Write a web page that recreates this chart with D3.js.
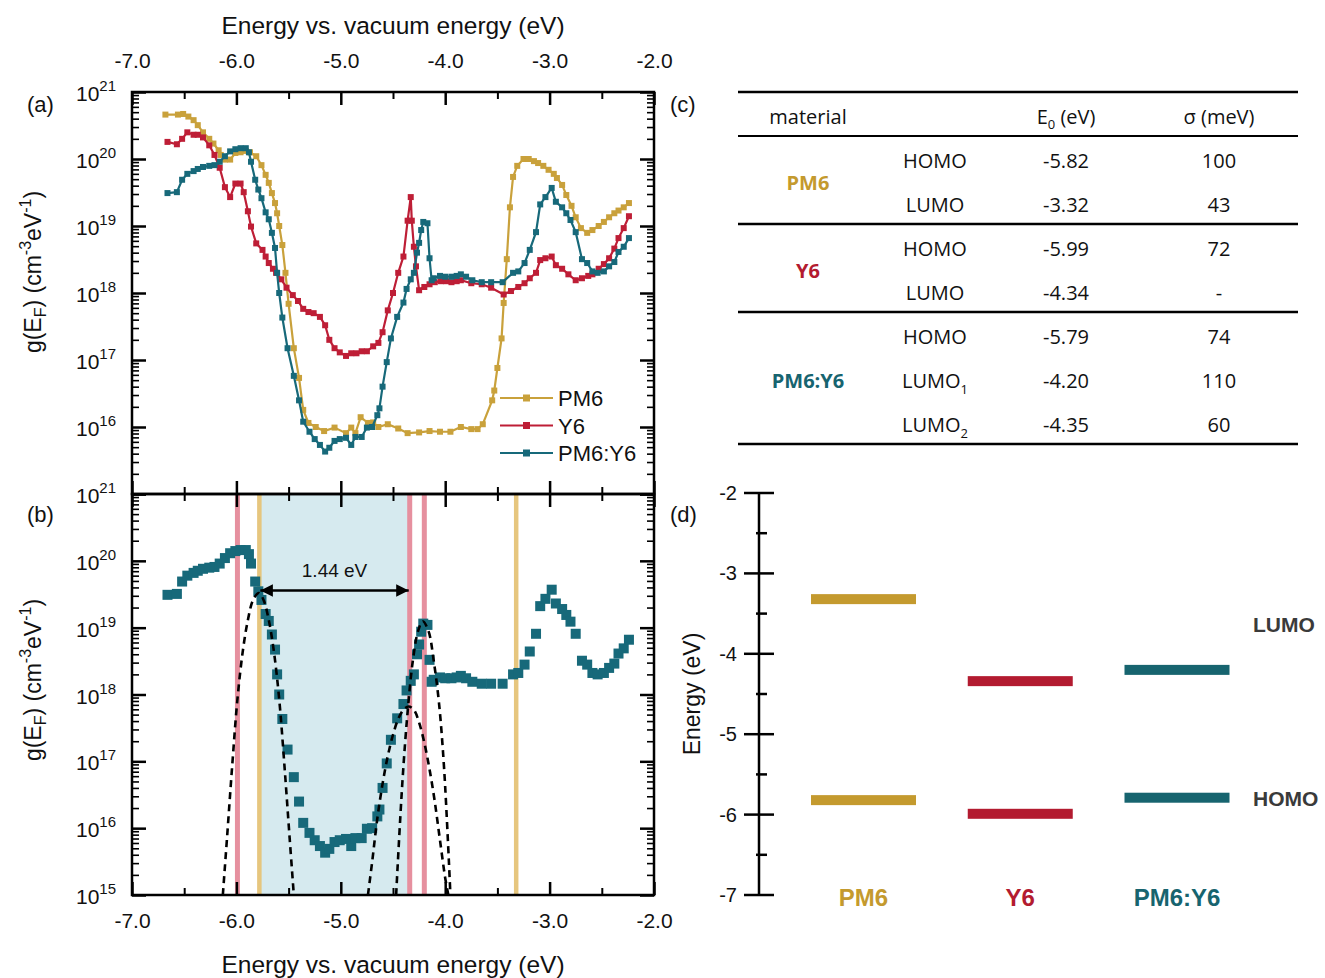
<!DOCTYPE html>
<html>
<head>
<meta charset="utf-8">
<script src="https://cdn.jsdelivr.net/npm/d3@7"></script>
<style>
    body { margin: 0; background: #fff; }
    text { font-family: "Liberation Sans", Arial, sans-serif; fill: #111; }
    .tbl { font-family: "Open Sans", "Noto Sans", sans-serif; }
</style>
</head>
<body>
<svg id="chart" width="1325" height="978"></svg>
<script>
// ---- data ----

const pm6 = [
    [-6.68, 4.6e20], [-6.56, 4.6e20], [-6.51, 4.7e20], [-6.46, 4.3e20], [-6.41, 3.8e20], [-6.37, 3.2e20],
    [-6.32, 2.5e20], [-6.26, 2.0e20], [-6.22, 1.7e20], [-6.17, 1.35e20], [-6.15, 1.15e20], [-6.11, 9.8e19],
    [-6.06, 9.8e19], [-6.01, 1.23e20], [-5.96, 1.26e20], [-5.91, 1.32e20], [-5.87, 1.26e20], [-5.81, 1.1e20],
    [-5.76, 8.1e19], [-5.72, 5.8e19], [-5.69, 4.4e19], [-5.66, 3.1e19], [-5.63, 2.2e19], [-5.61, 1.55e19],
    [-5.59, 1.0e19], [-5.56, 5.2e18], [-5.53, 2.0e18], [-5.50, 6.9e17], [-5.45, 1.5e17], [-5.40, 5.4e16],
    [-5.36, 1.8e16], [-5.31, 1.15e16], [-5.24, 1.0e16], [-5.16, 8.7e15], [-5.06, 9.8e15], [-4.95, 8.1e15],
    [-4.90, 9.8e15], [-4.86, 8.1e15], [-4.81, 1.4e16], [-4.74, 1.15e16], [-4.69, 1.17e16], [-4.64, 1.0e16],
    [-4.55, 1.1e16], [-4.45, 9.5e15], [-4.36, 8.1e15], [-4.25, 8.3e15], [-4.15, 8.7e15], [-4.05, 8.5e15],
    [-3.95, 8.5e15], [-3.85, 1.0e16], [-3.75, 9.3e15], [-3.69, 9.3e15], [-3.64, 1.1e16], [-3.55, 2.5e16],
    [-3.53, 3.5e16], [-3.50, 7.6e16], [-3.46, 2.1e17], [-3.44, 7.1e17], [-3.41, 3.2e18], [-3.38, 1.9e19],
    [-3.35, 5.4e19], [-3.31, 7.9e19], [-3.25, 1.0e20], [-3.20, 1.0e20], [-3.15, 9.3e19], [-3.11, 8.7e19],
    [-3.06, 7.9e19], [-3.01, 6.9e19], [-2.96, 6.0e19], [-2.93, 5.2e19], [-2.88, 4.1e19], [-2.84, 2.9e19],
    [-2.79, 2.0e19], [-2.75, 1.35e19], [-2.70, 9.3e18], [-2.64, 7.9e18], [-2.59, 8.7e18], [-2.53, 1.0e19],
    [-2.48, 1.15e19], [-2.43, 1.35e19], [-2.38, 1.55e19], [-2.34, 1.7e19], [-2.29, 1.9e19], [-2.24, 2.2e19]
];

const y6 = [
    [-6.66, 1.8e20], [-6.57, 1.66e20], [-6.52, 2.0e20], [-6.47, 2.5e20], [-6.41, 2.3e20], [-6.37, 2.3e20],
    [-6.32, 2.1e20], [-6.26, 1.6e20], [-6.21, 1.15e20], [-6.16, 7.4e19], [-6.11, 3.8e19], [-6.06, 2.7e19],
    [-6.01, 4.3e19], [-5.96, 4.3e19], [-5.93, 3.2e19], [-5.89, 1.66e19], [-5.86, 9.8e18], [-5.81, 5.5e18],
    [-5.75, 4.4e18], [-5.72, 3.5e18], [-5.69, 2.8e18], [-5.65, 2.3e18], [-5.62, 2.0e18], [-5.57, 1.6e18],
    [-5.52, 1.2e18], [-5.46, 9.3e17], [-5.41, 7.6e17], [-5.36, 5.8e17], [-5.31, 5.2e17], [-5.26, 5.0e17],
    [-5.20, 4.4e17], [-5.15, 3.3e17], [-5.11, 2.0e17], [-5.06, 1.5e17], [-5.01, 1.3e17], [-4.95, 1.15e17],
    [-4.90, 1.26e17], [-4.85, 1.26e17], [-4.80, 1.35e17], [-4.75, 1.35e17], [-4.69, 1.6e17], [-4.64, 1.8e17],
    [-4.60, 2.6e17], [-4.55, 5.5e17], [-4.50, 1.0e18], [-4.45, 2.0e18], [-4.40, 3.5e18], [-4.36, 1.2e19],
    [-4.33, 2.7e19], [-4.32, 1.2e19], [-4.30, 4.9e18], [-4.28, 2.5e18], [-4.25, 1.1e18], [-4.20, 1.23e18],
    [-4.15, 1.35e18], [-4.10, 1.45e18], [-4.04, 1.5e18], [-3.99, 1.5e18], [-3.94, 1.45e18], [-3.89, 1.5e18],
    [-3.85, 1.55e18], [-3.75, 1.4e18], [-3.65, 1.35e18], [-3.56, 1.2e18], [-3.44, 9.5e17], [-3.37, 1.07e18],
    [-3.30, 1.23e18], [-3.24, 1.4e18], [-3.19, 1.66e18], [-3.13, 2.0e18], [-3.09, 3.1e18], [-3.04, 3.3e18],
    [-2.98, 3.5e18], [-2.94, 2.6e18], [-2.88, 2.3e18], [-2.82, 1.9e18], [-2.75, 1.55e18], [-2.69, 1.66e18],
    [-2.63, 1.8e18], [-2.59, 1.9e18], [-2.53, 2.3e18], [-2.48, 2.7e18], [-2.43, 3.3e18], [-2.38, 4.6e18],
    [-2.34, 6.6e18], [-2.29, 9.3e18], [-2.24, 1.4e19]
];

const blend = [
    [-6.66, 3.1e19], [-6.57, 3.2e19], [-6.52, 4.9e19], [-6.47, 6.0e19], [-6.41, 6.6e19], [-6.37, 7.1e19],
    [-6.32, 7.6e19], [-6.26, 7.9e19], [-6.21, 8.1e19], [-6.16, 9.1e19], [-6.11, 1.1e20], [-6.06, 1.3e20],
    [-6.01, 1.4e20], [-5.96, 1.45e20], [-5.91, 1.45e20], [-5.88, 1.26e20], [-5.86, 9.1e19], [-5.82, 4.9e19],
    [-5.79, 3.5e19], [-5.76, 2.6e19], [-5.72, 1.6e19], [-5.69, 1.26e19], [-5.66, 7.9e18], [-5.63, 4.7e18],
    [-5.61, 2.0e18], [-5.59, 1.0e18], [-5.56, 4.3e17], [-5.51, 1.5e17], [-5.45, 5.8e16], [-5.40, 2.5e16],
    [-5.36, 1.2e16], [-5.30, 8.5e15], [-5.25, 6.6e15], [-5.20, 5.4e15], [-5.15, 4.3e15], [-5.11, 4.9e15],
    [-5.06, 6.2e15], [-5.01, 6.6e15], [-4.95, 6.9e15], [-4.90, 5.4e15], [-4.86, 7.1e15], [-4.80, 7.1e15],
    [-4.75, 9.8e15], [-4.70, 1.0e16], [-4.65, 1.5e16], [-4.63, 1.9e16], [-4.60, 4.0e16], [-4.56, 9.3e16],
    [-4.52, 2.1e17], [-4.46, 4.4e17], [-4.40, 7.2e17], [-4.37, 1.15e18], [-4.33, 1.6e18], [-4.30, 2.0e18],
    [-4.27, 4.0e18], [-4.25, 5.6e18], [-4.23, 8.7e18], [-4.21, 1.15e19], [-4.17, 1.1e19], [-4.15, 3.3e18],
    [-4.13, 1.55e18], [-4.11, 1.66e18], [-4.05, 1.8e18], [-4.00, 1.75e18], [-3.94, 1.75e18], [-3.89, 1.8e18],
    [-3.85, 1.9e18], [-3.80, 1.75e18], [-3.74, 1.55e18], [-3.65, 1.45e18], [-3.56, 1.45e18], [-3.45, 1.45e18],
    [-3.35, 2.0e18], [-3.30, 2.1e18], [-3.24, 2.8e18], [-3.19, 4.4e18], [-3.13, 8.1e18], [-3.09, 2.1e19],
    [-3.04, 2.7e19], [-2.98, 3.7e19], [-2.94, 2.3e19], [-2.88, 1.9e19], [-2.84, 1.55e19], [-2.80, 1.23e19],
    [-2.75, 8.1e18], [-2.69, 3.2e18], [-2.64, 2.8e18], [-2.59, 2.1e18], [-2.54, 2.0e18], [-2.48, 2.1e18],
    [-2.43, 2.5e18], [-2.38, 2.9e18], [-2.34, 4.1e18], [-2.29, 4.9e18], [-2.24, 6.6e18]
];

// dashed fit curves in panel (b)
const fitHomo = [
    [-6.13, 1e15], [-6.09, 7.1e15], [-6.04, 8.7e16], [-5.99, 8.5e17], [-5.94, 4.3e18], [-5.89, 1.3e19],
    [-5.84, 2.6e19], [-5.785, 3.3e19], [-5.74, 2.6e19], [-5.69, 1.3e19], [-5.64, 4.3e18], [-5.59, 8.5e17],
    [-5.54, 8.7e16], [-5.49, 7.1e15], [-5.45, 1e15]
];
const fitLumo2 = [
    [-4.74, 1e15], [-4.70, 3.1e15], [-4.65, 1.4e16], [-4.60, 4.6e16], [-4.55, 1.2e17], [-4.50, 2.5e17],
    [-4.45, 4.3e17], [-4.40, 5.9e17], [-4.35, 6.6e17], [-4.30, 5.9e17], [-4.25, 3.8e17], [-4.20, 1.9e17],
    [-4.15, 7.6e16], [-4.10, 2.5e16], [-4.05, 6.6e15], [-4.00, 1.8e15], [-3.97, 1e15]
];
const fitLumo1 = [
    [-4.47, 1e15], [-4.41, 4.9e16], [-4.36, 5.5e17], [-4.31, 3.2e18], [-4.26, 8.9e18], [-4.215, 1.25e19],
    [-4.16, 8.9e18], [-4.11, 3.2e18], [-4.06, 7.6e17], [-4.01, 7.6e16], [-3.95, 1e15]
];

// levels (table c / panel d)
const materials = ["PM6", "Y6", "PM6:Y6"];
const materialColors = ["#c49a2e", "#b31b30", "#17646f"];
const homoLevels = [-5.82, -5.99, -5.79];
const lumoLevels = [-3.32, -4.34, -4.20];

const tableRows = [
    ["HOMO", "", "-5.82", "100"],
    ["LUMO", "", "-3.32", "43"],
    ["HOMO", "", "-5.99", "72"],
    ["LUMO", "", "-4.34", "-"],
    ["HOMO", "", "-5.79", "74"],
    ["LUMO", "1", "-4.20", "110"],
    ["LUMO", "2", "-4.35", "60"]
];

// vertical marker lines in panel (b)
const markerLines = [
    {e: -5.99, c: "pink"}, {e: -5.78, c: "gold"}, {e: -4.34, c: "pink"},
    {e: -4.20, c: "pink"}, {e: -3.32, c: "gold"}
];
const gapFrom = -5.78, gapTo = -4.34, gapLabel = "1.44 eV";

const xTicks = [-7, -6, -5, -4, -3, -2];
const xMinor = [-6.5, -5.5, -4.5, -3.5, -2.5];
const decades = [1e15, 1e16, 1e17, 1e18, 1e19, 1e20, 1e21];

// ---- styling ----
const lineColors = {pm6: "#c9a13b", y6: "#be1e36", blend: "#17697a"};
const axisWidth = 2.5;
const svg = d3.select("#chart");

const x = d3.scaleLinear().domain([-7, -2]).range([132, 654]);
const yA = d3.scaleLog().domain([1e15, 1e21]).range([494, 92]);
const yB = d3.scaleLog().domain([1e15, 1e21]).range([895, 494]);

const minorLog = [];
for (let d = 15; d < 21; d++) for (let k = 2; k <= 9; k++) minorLog.push(k * Math.pow(10, d));

function drawFrame(y, topLabels, bottomLabels, yExps) {
    const [y0, y1] = y.range(); // bottom, top
    const g = svg.append("g");

    const axes = [
        [d3.axisTop(x), y1, topLabels],
        [d3.axisBottom(x), y0, bottomLabels]
    ];
    axes.forEach(([ax, pos, labelled]) => {
        g.append("g").attr("transform", `translate(0 ${pos})`)
            .call(ax.tickValues(xTicks).tickSize(-13).tickPadding(labelled ? (pos === y1 ? 24 : 18) : 0)
                .tickFormat(labelled ? (d => d.toFixed(1)) : ""))
            .call(s => s.select(".domain").remove())
            .call(s => s.selectAll("line").attr("stroke-width", axisWidth))
            .call(s => s.selectAll("text").style("font-size", "21px").attr("font-family", null).attr("fill", "#111"));
        g.append("g").attr("transform", `translate(0 ${pos})`)
            .call(ax.tickValues(xMinor).tickSize(-7).tickFormat(""))
            .call(s => s.select(".domain").remove())
            .call(s => s.selectAll("line").attr("stroke-width", 2));
    });

    [[d3.axisLeft(y), x.range()[0]], [d3.axisRight(y), x.range()[1]]].forEach(([ax, pos]) => {
        g.append("g").attr("transform", `translate(${pos} 0)`)
            .call(ax.tickValues(decades).tickSize(-14).tickFormat(""))
            .call(s => s.select(".domain").remove())
            .call(s => s.selectAll("line").attr("stroke-width", axisWidth));
        g.append("g").attr("transform", `translate(${pos} 0)`)
            .call(ax.tickValues(minorLog).tickSize(-7).tickFormat(""))
            .call(s => s.select(".domain").remove())
            .call(s => s.selectAll("line").attr("stroke-width", 1.6));
    });

    g.append("rect")
        .attr("x", x.range()[0]).attr("y", y1)
        .attr("width", x.range()[1] - x.range()[0]).attr("height", y0 - y1)
        .attr("fill", "none").attr("stroke", "#000").attr("stroke-width", axisWidth);

    const lbl = g.selectAll(".ylab").data(yExps).join("text")
        .attr("class", "ylab")
        .attr("x", 116)
        .attr("y", d => y(Math.pow(10, d)) + 9)
        .attr("text-anchor", "end")
        .style("font-size", "21px");
    lbl.append("tspan").text("10");
    lbl.append("tspan").text(d => d).attr("dy", -10).style("font-size", "15px");
    return g;
}

function yTitle(cy) {
    const t = svg.append("text")
        .attr("transform", `translate(41 ${cy}) rotate(-90)`)
        .attr("text-anchor", "middle")
        .style("font-size", "23px");
    t.append("tspan").text("g(E");
    t.append("tspan").text("F").attr("dy", 5).style("font-size", "16px");
    t.append("tspan").text(") (cm").attr("dy", -5);
    t.append("tspan").text("-3").attr("dy", -10).style("font-size", "16px");
    t.append("tspan").text("eV").attr("dy", 10);
    t.append("tspan").text("-1").attr("dy", -10).style("font-size", "16px");
    t.append("tspan").text(")").attr("dy", 10);
}

// ---- panel (b) background layers ----
svg.append("rect")
    .attr("x", x(gapFrom)).attr("y", yB.range()[1])
    .attr("width", x(gapTo) - x(gapFrom)).attr("height", yB.range()[0] - yB.range()[1])
    .attr("fill", "#d6eaef");

svg.selectAll(".vline").data(markerLines).join("line")
    .attr("class", "vline")
    .attr("x1", d => x(d.e)).attr("x2", d => x(d.e))
    .attr("y1", yB.range()[1]).attr("y2", yB.range()[0])
    .attr("stroke", d => d.c === "pink" ? "#e6909f" : "#e6c67e")
    .attr("stroke-width", d => d.c === "pink" ? 5 : 4.5);

// ---- panel (a) lines ----
const series = [
    {name: "PM6", data: pm6, color: lineColors.pm6},
    {name: "Y6", data: y6, color: lineColors.y6},
    {name: "PM6:Y6", data: blend, color: lineColors.blend}
];
const lineA = d3.line().x(d => x(d[0])).y(d => yA(d[1]));

series.forEach(s => {
    const g = svg.append("g");
    g.append("path").datum(s.data).attr("d", lineA)
        .attr("fill", "none").attr("stroke", s.color).attr("stroke-width", 2.2);
    g.selectAll("rect").data(s.data).join("rect")
        .attr("x", d => x(d[0]) - 3).attr("y", d => yA(d[1]) - 3)
        .attr("width", 6).attr("height", 6).attr("fill", s.color);
});

// legend
const legend = svg.append("g");
series.forEach((s, i) => {
    const ly = 398 + i * 27.5;
    legend.append("line").attr("x1", 500).attr("x2", 553).attr("y1", ly).attr("y2", ly)
        .attr("stroke", s.color).attr("stroke-width", 2.2);
    legend.append("rect").attr("x", 523).attr("y", ly - 3.5).attr("width", 7).attr("height", 7).attr("fill", s.color);
    legend.append("text").attr("x", 558).attr("y", ly + 8).text(s.name).style("font-size", "22px");
});

// ---- panel (b) markers and fits ----
svg.append("clipPath").attr("id", "clipB").append("rect")
    .attr("x", x.range()[0]).attr("y", yB.range()[1])
    .attr("width", x.range()[1] - x.range()[0]).attr("height", yB.range()[0] - yB.range()[1]);

svg.append("g").selectAll("rect").data(blend).join("rect")
    .attr("x", d => x(d[0]) - 5).attr("y", d => yB(d[1]) - 5)
    .attr("width", 10).attr("height", 10).attr("fill", lineColors.blend);

const lineB = d3.line().x(d => x(d[0])).y(d => yB(d[1])).curve(d3.curveCatmullRom);
svg.append("g").attr("clip-path", "url(#clipB)")
    .selectAll("path").data([fitHomo, fitLumo2, fitLumo1]).join("path")
    .attr("d", lineB)
    .attr("fill", "none").attr("stroke", "#000").attr("stroke-width", 2.6)
    .attr("stroke-dasharray", "7,5");

// arrow
const defs = svg.append("defs");
defs.append("marker").attr("id", "ah").attr("viewBox", "0 0 10 10")
    .attr("refX", 10).attr("refY", 5).attr("markerWidth", 6).attr("markerHeight", 5)
    .attr("markerUnits", "strokeWidth")
    .attr("orient", "auto-start-reverse")
    .append("path").attr("d", "M0,0 L10,5 L0,10 z").attr("fill", "#000");
const arrowY = yB(3.6e19);
svg.append("line")
    .attr("x1", x(gapFrom) + 1).attr("x2", x(gapTo) - 1)
    .attr("y1", arrowY).attr("y2", arrowY)
    .attr("stroke", "#000").attr("stroke-width", 2.5)
    .attr("marker-start", "url(#ah)").attr("marker-end", "url(#ah)");
svg.append("text")
    .attr("x", (x(gapFrom) + x(gapTo)) / 2).attr("y", arrowY - 13)
    .attr("text-anchor", "middle").style("font-size", "19px").text(gapLabel);

// frames on top
drawFrame(yA, true, false, [16, 17, 18, 19, 20, 21]);
drawFrame(yB, false, true, [15, 16, 17, 18, 19, 20, 21]);
yTitle(272);
yTitle(680);

svg.append("text").attr("x", 393).attr("y", 34).attr("text-anchor", "middle")
    .style("font-size", "24.5px").text("Energy vs. vacuum energy (eV)");
svg.append("text").attr("x", 393).attr("y", 973).attr("text-anchor", "middle")
    .style("font-size", "24.5px").text("Energy vs. vacuum energy (eV)");

[["(a)", 27, 112], ["(b)", 27, 522], ["(c)", 670, 112], ["(d)", 670, 522]].forEach(([t, lx, ly]) => {
    svg.append("text").attr("x", lx).attr("y", ly).style("font-size", "22px").text(t);
});

// ---- table (c) ----
const tbl = svg.append("g").attr("class", "tbl");
const tblLeft = 738, tblRight = 1298;
const rowY = d3.scalePoint().domain(d3.range(tableRows.length)).range([161, 425]);
const colX = [935, 1066, 1219];
[[92, 2.6], [136, 2], [224, 2.6], [312, 2.6], [444, 2.6]].forEach(([ry, w]) => {
    tbl.append("line").attr("x1", tblLeft).attr("x2", tblRight).attr("y1", ry).attr("y2", ry)
        .attr("stroke", "#000").attr("stroke-width", w);
});
tbl.append("text").attr("class", "tbl").attr("x", 808).attr("y", 124).attr("text-anchor", "middle")
    .style("font-size", "20px").text("material");
const e0 = tbl.append("text").attr("class", "tbl").attr("x", colX[1]).attr("y", 124)
    .attr("text-anchor", "middle").style("font-size", "20px");
e0.append("tspan").text("E");
e0.append("tspan").text("0").attr("dy", 5).style("font-size", "13px");
e0.append("tspan").text(" (eV)").attr("dy", -5);
tbl.append("text").attr("class", "tbl").attr("x", colX[2]).attr("y", 124).attr("text-anchor", "middle")
    .style("font-size", "20px").text("σ (meV)");

tableRows.forEach((r, i) => {
    const ty = rowY(i) + 7;
    const lvl = tbl.append("text").attr("class", "tbl").attr("x", colX[0]).attr("y", ty)
        .attr("text-anchor", "middle").style("font-size", "20px");
    lvl.append("tspan").text(r[0]);
    if (r[1]) lvl.append("tspan").text(r[1]).attr("dy", 6).style("font-size", "13px");
    tbl.append("text").attr("class", "tbl").attr("x", colX[1]).attr("y", ty)
        .attr("text-anchor", "middle").style("font-size", "20px").text(r[2]);
    tbl.append("text").attr("class", "tbl").attr("x", colX[2]).attr("y", ty)
        .attr("text-anchor", "middle").style("font-size", "20px").text(r[3]);
});
[[0, 183], [1, 271], [2, 381]].forEach(([m, my]) => {
    tbl.append("text").attr("class", "tbl").attr("x", 808).attr("y", my + 7)
        .attr("text-anchor", "middle").style("font-size", "20px").style("font-weight", "bold")
        .style("fill", materialColors[m]).text(materials[m]);
});

// ---- panel (d) ----
const yD = d3.scaleLinear().domain([-7, -2]).range([895, 493]);
const xD = d3.scalePoint().domain(materials).range([863.5, 1177]);
const axX = 759;
const dG = svg.append("g");
dG.append("line").attr("x1", axX).attr("x2", axX).attr("y1", yD(-2)).attr("y2", yD(-7))
    .attr("stroke", "#000").attr("stroke-width", axisWidth);
dG.selectAll(".maj").data(d3.range(-7, -1)).join("line").attr("class", "maj")
    .attr("x1", axX - 15).attr("x2", axX + 15).attr("y1", d => yD(d)).attr("y2", d => yD(d))
    .attr("stroke", "#000").attr("stroke-width", axisWidth);
dG.selectAll(".mnr").data(d3.range(-6.5, -2, 1)).join("line").attr("class", "mnr")
    .attr("x1", axX - 3).attr("x2", axX + 8).attr("y1", d => yD(d)).attr("y2", d => yD(d))
    .attr("stroke", "#000").attr("stroke-width", axisWidth);
dG.selectAll(".tl").data(d3.range(-7, -1)).join("text").attr("class", "tl")
    .attr("x", 737).attr("y", d => yD(d) + 7).attr("text-anchor", "end")
    .style("font-size", "20px").text(d => d);
dG.append("text").attr("transform", `translate(700 694) rotate(-90)`).attr("text-anchor", "middle")
    .style("font-size", "23px").text("Energy (eV)");

const barW = 105, barH = 10;
materials.forEach((m, i) => {
    [homoLevels[i], lumoLevels[i]].forEach(v => {
        dG.append("rect").attr("x", xD(m) - barW / 2).attr("y", yD(v) - barH / 2)
            .attr("width", barW).attr("height", barH).attr("fill", materialColors[i]);
    });
    dG.append("text").attr("x", xD(m)).attr("y", 906).attr("text-anchor", "middle")
        .style("font-size", "24px").style("font-weight", "bold").style("fill", materialColors[i]).text(m);
});
dG.append("text").attr("x", 1253).attr("y", 632).style("font-size", "21px").style("font-weight", "bold")
    .style("fill", "#3a3a3a").text("LUMO");
dG.append("text").attr("x", 1253).attr("y", 806).style("font-size", "21px").style("font-weight", "bold")
    .style("fill", "#3a3a3a").text("HOMO");
</script>
</body>
</html>
